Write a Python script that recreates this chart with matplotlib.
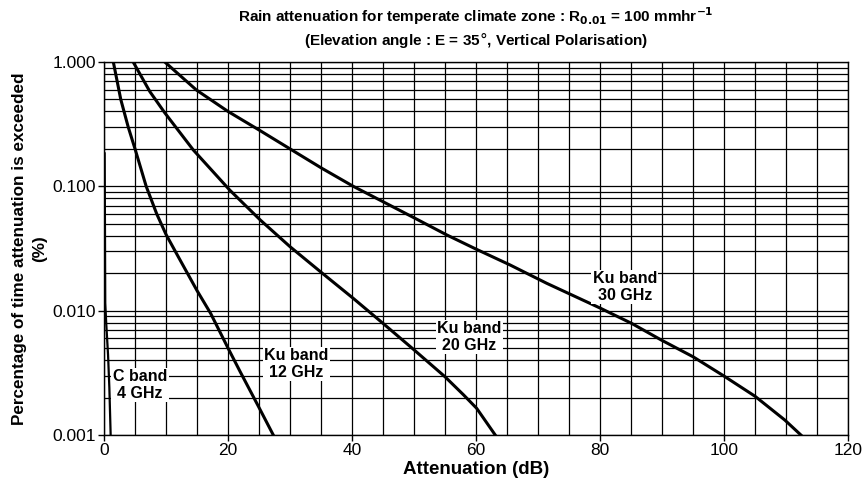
import numpy as np
import matplotlib
matplotlib.use('Agg')
from matplotlib import pyplot as plt
from matplotlib.ticker import FixedLocator, LogLocator, NullFormatter

plt.rcParams['font.family'] = ['Liberation Sans', 'DejaVu Sans']

# attenuation (dB) vs. percentage of time exceeded
c4_x = [0.1, 0.15, 0.2, 0.35, 0.65, 0.86, 1.07]
c4_y = [0.184, 0.05, 0.0115, 0.008, 0.0044, 0.0024, 0.001]

ku12_x = [1.5, 2.7, 3.9, 5.0, 6.8, 8.5, 10.0, 12.0, 15.0, 17.2, 20.0, 22.0, 24.9, 27.3]
ku12_y = [1.0, 0.5, 0.3, 0.2, 0.1, 0.06, 0.041, 0.027, 0.0145, 0.0095, 0.005, 0.0032,
          0.0017, 0.001]

ku20_x = [4.7, 7.4, 9.8, 14.4, 20.3, 25.2, 30.0, 35.1, 40.2, 45.0, 49.9, 55.0, 58.0,
          60.1, 63.1]
ku20_y = [1.0, 0.577, 0.39, 0.196, 0.093, 0.0536, 0.0327, 0.0202, 0.01256, 0.0079,
          0.00489, 0.00294, 0.0021, 0.00164, 0.001]

ku30_x = [9.8, 14.9, 20.0, 25.2, 30.0, 35.1, 40.2, 45.0, 50.2, 55.3, 60.1, 65.5, 71.4,
          80.0, 85.1, 89.9, 95.0, 99.9, 105.0, 109.8, 112.4]
ku30_y = [1.0, 0.595, 0.4, 0.28, 0.2, 0.14, 0.1, 0.0752, 0.0552, 0.0406,
          0.0311, 0.0233, 0.0166, 0.0105, 0.0079, 0.0058, 0.00426, 0.003, 0.00205,
          0.00132, 0.001]

labels = ['C band\n4 GHz', 'Ku band\n12 GHz', 'Ku band\n20 GHz', 'Ku band\n30 GHz']
label_x = [5.8, 31.0, 58.9, 84.0]
label_y = [0.00252, 0.00372, 0.00614, 0.0155]

fig = plt.figure(figsize=(8.64, 4.88), dpi=100)
ax = fig.add_axes([0.1204, 0.1086, 0.8611, 0.7644])

ax.plot(c4_x, c4_y, color='black', lw=1.6, zorder=3)
for xs, ys in [(ku12_x, ku12_y), (ku20_x, ku20_y), (ku30_x, ku30_y)]:
    ax.plot(xs, ys, color='black', lw=2.2, zorder=3, solid_joinstyle='round')

ax.set_yscale('log')
ax.set_xlim(0, 120)
ax.set_ylim(0.001, 1.0)

ax.xaxis.set_major_locator(FixedLocator(np.arange(0, 121, 20)))
ax.xaxis.set_minor_locator(FixedLocator(np.arange(0, 121, 5)))
ax.yaxis.set_major_locator(FixedLocator([0.001, 0.01, 0.1, 1.0]))
ax.yaxis.set_minor_locator(LogLocator(base=10, subs=np.arange(2, 10)))
ax.yaxis.set_minor_formatter(NullFormatter())
ax.set_yticklabels(['0.001', '0.010', '0.100', '1.000'])

ax.grid(True, which='both', color='black', lw=0.9)
ax.tick_params(which='major', direction='out', length=4, width=1, labelsize=12.5, pad=2)
ax.tick_params(which='minor', length=0)
for s in ax.spines.values():
    s.set_linewidth(1.0)

for t, lx, ly in zip(labels, label_x, label_y):
    ax.text(lx, ly, t, ha='center', va='center', fontsize=11.5, fontweight='bold',
            linespacing=1.1, zorder=4,
            bbox=dict(facecolor='white', edgecolor='none', pad=1.0))

ax.set_xlabel('Attenuation (dB)', fontsize=13.5, fontweight='bold', labelpad=2)
ax.set_ylabel('Percentage of time attenuation is exceeded\n(%)', fontsize=12.3,
              fontweight='bold', labelpad=4, linespacing=1.4)
ax.set_title('Rain attenuation for temperate climate zone : R$_{\\mathbf{0.01}}$ = 100 mmhr$^{\\mathbf{-1}}$\n'
             '(Elevation angle : E = 35$\\degree$, Vertical Polarisation)',
             fontsize=11, fontweight='bold', linespacing=1.2, pad=12)

fig.savefig('out.png', dpi=100)
